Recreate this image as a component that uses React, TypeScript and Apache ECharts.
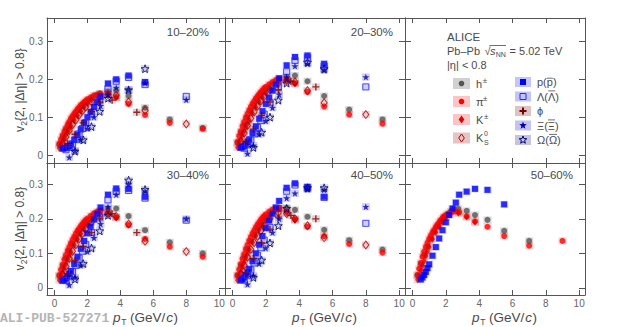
import React, { useEffect, useRef } from "react";
import * as echarts from "echarts";

// ---------- data ----------
const CENTRALITY = ["10–20%", "20–30%", "30–40%", "40–50%", "50–60%"];
const X_TICKS = [0, 2, 4, 6, 8, 10];
const Y_TICKS = [0, 0.1, 0.2, 0.3];

const PT_H = [0.3, 0.5, 0.7, 0.9, 1.1, 1.3, 1.5, 1.7, 1.9, 2.1, 2.3, 2.5, 2.75, 3.25, 3.75, 4.5, 5.5, 7, 9];
const V2_H = [
  [0.027, 0.047, 0.066, 0.082, 0.097, 0.109, 0.12, 0.13, 0.138, 0.146, 0.152, 0.157, 0.163, 0.168, 0.17, 0.156, 0.125, 0.094, 0.072],
  [0.032, 0.058, 0.08, 0.1, 0.117, 0.132, 0.145, 0.156, 0.166, 0.175, 0.183, 0.19, 0.199, 0.207, 0.21, 0.195, 0.156, 0.12, 0.094],
  [0.034, 0.062, 0.086, 0.108, 0.127, 0.144, 0.159, 0.172, 0.184, 0.195, 0.205, 0.213, 0.222, 0.23, 0.23, 0.208, 0.167, 0.132, 0.1],
  [0.035, 0.064, 0.09, 0.113, 0.134, 0.152, 0.168, 0.182, 0.195, 0.206, 0.215, 0.223, 0.23, 0.232, 0.226, 0.206, 0.168, 0.138, 0.111],
  [0.036, 0.068, 0.096, 0.121, 0.143, 0.162, 0.178, 0.192, 0.204, 0.214, 0.222, 0.228, 0.229, 0.223, 0.211, 0.197, 0.165, 0.136, null],
];

const PT_PI = [0.3, 0.4, 0.5, 0.6, 0.7, 0.8, 0.9, 1.0, 1.1, 1.2, 1.3, 1.4, 1.5, 1.6, 1.7, 1.8, 1.9, 2.0, 2.2, 2.4, 2.6, 2.8, 3.25, 3.75, 4.5, 5.5, 7, 9];
const V2_PI = [
  [0.03, 0.041, 0.052, 0.062, 0.071, 0.08, 0.088, 0.096, 0.103, 0.109, 0.115, 0.121, 0.126, 0.131, 0.135, 0.139, 0.143, 0.147, 0.152, 0.157, 0.16, 0.162, 0.163, 0.153, 0.135, 0.106, 0.085, 0.069],
  [0.035, 0.05, 0.063, 0.076, 0.088, 0.099, 0.109, 0.118, 0.127, 0.135, 0.142, 0.149, 0.155, 0.161, 0.166, 0.171, 0.176, 0.18, 0.187, 0.193, 0.198, 0.201, 0.2, 0.189, 0.167, 0.128, 0.107, 0.083],
  [0.037, 0.052, 0.067, 0.082, 0.095, 0.107, 0.118, 0.129, 0.139, 0.148, 0.157, 0.165, 0.172, 0.179, 0.185, 0.191, 0.196, 0.201, 0.209, 0.216, 0.221, 0.224, 0.218, 0.204, 0.182, 0.142, 0.119, 0.09],
  [0.037, 0.053, 0.069, 0.084, 0.098, 0.112, 0.124, 0.136, 0.147, 0.157, 0.166, 0.175, 0.183, 0.19, 0.197, 0.203, 0.208, 0.213, 0.221, 0.227, 0.23, 0.231, 0.222, 0.199, 0.177, 0.15, 0.127, 0.102],
  [0.037, 0.055, 0.072, 0.09, 0.105, 0.118, 0.13, 0.141, 0.151, 0.16, 0.168, 0.176, 0.183, 0.19, 0.196, 0.202, 0.207, 0.211, 0.217, 0.221, 0.222, 0.219, 0.207, 0.193, 0.177, 0.15, 0.122, 0.136],
];

const PT_K = [0.3, 0.4, 0.5, 0.6, 0.7, 0.8, 0.9, 1.0, 1.2, 1.4, 1.6, 1.8, 2.0, 2.25, 2.75, 3.25, 3.75];
const V2_K = [
  [0.018, 0.026, 0.035, 0.044, 0.053, 0.061, 0.069, 0.077, 0.091, 0.104, 0.116, 0.126, 0.135, 0.145, 0.155, 0.16, 0.152],
  [0.02, 0.03, 0.041, 0.052, 0.063, 0.073, 0.083, 0.092, 0.11, 0.126, 0.14, 0.152, 0.163, 0.175, 0.192, 0.198, 0.188],
  [0.022, 0.033, 0.045, 0.057, 0.069, 0.081, 0.092, 0.103, 0.123, 0.141, 0.157, 0.171, 0.183, 0.197, 0.215, 0.216, 0.203],
  [0.022, 0.034, 0.047, 0.06, 0.073, 0.086, 0.098, 0.11, 0.132, 0.151, 0.168, 0.183, 0.196, 0.21, 0.225, 0.218, 0.196],
  [0.023, 0.036, 0.05, 0.064, 0.078, 0.092, 0.105, 0.118, 0.141, 0.161, 0.178, 0.192, 0.204, 0.213, 0.216, 0.205, 0.19],
];

const PT_K0S = [0.5, 0.7, 0.9, 1.1, 1.3, 1.5, 1.7, 1.9, 2.25, 2.75, 3.25, 3.75, 4.5, 5.5, 8];
const V2_K0S = [
  [0.03, 0.048, 0.065, 0.08, 0.093, 0.106, 0.117, 0.127, 0.141, 0.153, 0.16, 0.158, 0.14, 0.118, 0.082],
  [0.036, 0.058, 0.078, 0.097, 0.114, 0.129, 0.143, 0.155, 0.172, 0.19, 0.197, 0.193, 0.17, 0.138, 0.107],
  [0.038, 0.062, 0.085, 0.106, 0.125, 0.142, 0.157, 0.17, 0.19, 0.21, 0.216, 0.207, 0.185, 0.135, 0.105],
  [0.039, 0.065, 0.089, 0.111, 0.131, 0.149, 0.165, 0.179, 0.2, 0.218, 0.215, 0.2, 0.18, 0.145, 0.124],
];

const PT_P = [0.5, 0.6, 0.7, 0.8, 0.9, 1.0, 1.2, 1.4, 1.6, 1.8, 2.0, 2.2, 2.4, 2.6, 2.8, 3.25, 3.75, 4.5, 5.5];
const V2_P = [
  [0.017, 0.018, 0.019, 0.021, 0.024, 0.028, 0.04, 0.053, 0.068, 0.085, 0.1, 0.114, 0.127, 0.14, 0.155, 0.189, 0.2, 0.21, 0.193],
  [0.019, 0.021, 0.024, 0.028, 0.034, 0.041, 0.058, 0.076, 0.096, 0.116, 0.135, 0.152, 0.17, 0.186, 0.203, 0.237, 0.259, 0.263, 0.241],
  [0.02, 0.023, 0.027, 0.033, 0.04, 0.049, 0.069, 0.09, 0.113, 0.136, 0.158, 0.178, 0.198, 0.215, 0.233, 0.27, 0.288, 0.287, 0.264],
  [0.021, 0.025, 0.03, 0.037, 0.045, 0.055, 0.077, 0.1, 0.125, 0.15, 0.173, 0.195, 0.215, 0.233, 0.252, 0.29, 0.303, 0.293, 0.264],
  [0.024, 0.03, 0.037, 0.046, 0.057, 0.068, 0.093, 0.118, 0.143, 0.167, 0.19, 0.211, 0.23, 0.247, 0.27, 0.279, 0.287, 0.284, 0.242],
];

const PT_LAMBDA = [0.7, 0.9, 1.1, 1.3, 1.5, 1.7, 1.9, 2.25, 2.75, 3.25, 3.75, 4.5, 5.5, 8];
const V2_LAMBDA = [
  [0.014, 0.02, 0.03, 0.042, 0.056, 0.07, 0.085, 0.108, 0.145, 0.175, 0.195, 0.205, 0.186, 0.155],
  [0.018, 0.027, 0.04, 0.056, 0.073, 0.091, 0.108, 0.138, 0.18, 0.22, 0.25, 0.258, 0.235, 0.18],
  [0.021, 0.032, 0.047, 0.065, 0.086, 0.106, 0.126, 0.16, 0.205, 0.255, 0.28, 0.282, 0.26, 0.196],
  [0.023, 0.035, 0.052, 0.072, 0.094, 0.116, 0.138, 0.175, 0.23, 0.28, 0.298, 0.29, 0.262, 0.187],
];

const PT_PHI = [0.8, 1.25, 1.75, 2.25, 2.75, 3.5, 5.0];
const V2_PHI = [
  [0.03, 0.055, 0.085, 0.115, 0.14, 0.145, 0.113],
  [0.035, 0.068, 0.105, 0.14, 0.172, 0.195, 0.18],
  [0.04, 0.08, 0.12, 0.16, 0.2, 0.215, 0.16],
  [0.042, 0.085, 0.13, 0.17, 0.205, 0.21, 0.2],
];

const PT_XI = [0.9, 1.25, 1.6, 2.0, 2.4, 2.8, 3.25, 3.75, 4.5, 5.5, 8];
const V2_XI = [
  [-0.006, 0.012, 0.04, 0.07, 0.1, 0.13, 0.16, 0.178, 0.173, 0.19, 0.146],
  [0.004, 0.025, 0.055, 0.09, 0.125, 0.16, 0.205, 0.235, 0.241, 0.224, 0.206],
  [0.008, 0.03, 0.065, 0.105, 0.145, 0.185, 0.235, 0.27, 0.3, 0.28, 0.2],
  [0.01, 0.035, 0.07, 0.115, 0.16, 0.2, 0.26, 0.274, 0.285, 0.284, 0.235],
];

const PT_OMEGA = [1.25, 1.75, 2.25, 2.75, 3.25, 4.5, 5.5];
const V2_OMEGA = [
  [0.01, 0.04, 0.075, 0.115, 0.15, 0.172, 0.228],
  [0.02, 0.06, 0.1, 0.145, 0.19, 0.245, 0.228],
  [0.025, 0.07, 0.115, 0.165, 0.21, 0.312, 0.285],
  [0.03, 0.08, 0.13, 0.18, 0.23, 0.29, 0.29],
];

// ---------- styling ----------
const FONT = "Liberation Sans, Arial, Helvetica, sans-serif";
const AX = "#555";
const TXT = "#4a4a4a";
const X_MIN = -0.45, X_MAX = 10.35;
const Y_MIN = -0.021, Y_MAX = 0.362;

const GRIDS = [
  { left: 47, top: 18, width: 178, height: 145 },
  { left: 225, top: 18, width: 180, height: 145 },
  { left: 405, top: 18, width: 180, height: 145 },
  { left: 47, top: 163, width: 178, height: 132 },
  { left: 225, top: 163, width: 180, height: 132 },
  { left: 405, top: 163, width: 180, height: 132 },
];
const PANEL_GRID = [0, 1, 3, 4, 5];

function starPts(cx: number, cy: number, R: number, r: number) {
  const pts: number[][] = [];
  for (let i = 0; i < 10; i++) {
    const a = -Math.PI / 2 + (i * Math.PI) / 5;
    const rr = i % 2 === 0 ? R : r;
    pts.push([cx + rr * Math.cos(a), cy + rr * Math.sin(a)]);
  }
  return pts;
}
const STAR_PATH = "path://" + starPts(10, 10, 10, 4).map((p, i) => (i ? "L" : "M") + p[0].toFixed(2) + "," + p[1].toFixed(2)).join(" ") + " Z";
const CROSS_PATH = "path://M4,0 L6,0 L6,4 L10,4 L10,6 L6,6 L6,10 L4,10 L4,6 L0,6 L0,4 L4,4 Z";

type Sp = {
  pt: number[]; v2: (number | null)[][]; symbol: string; size: any; color: string; open?: boolean; box: string; shape: string;
};
const SPECIES: Sp[] = [
  { pt: PT_H, v2: V2_H, symbol: "circle", size: 6, color: "#555555", box: "rgba(140,140,140,0.4)", shape: "circle" },
  { pt: PT_PI, v2: V2_PI, symbol: "circle", size: 6, color: "#ff0000", box: "rgba(255,70,70,0.32)", shape: "circle" },
  { pt: PT_K, v2: V2_K, symbol: "diamond", size: [5, 7], color: "#e00000", box: "rgba(240,70,70,0.32)", shape: "diamond" },
  { pt: PT_K0S, v2: V2_K0S, symbol: "diamond", size: [6, 8], color: "#b00000", open: true, box: "rgba(180,70,70,0.32)", shape: "diamond" },
  { pt: PT_P, v2: V2_P, symbol: "rect", size: 6, color: "#0000ff", box: "rgba(70,70,255,0.32)", shape: "rect" },
  { pt: PT_LAMBDA, v2: V2_LAMBDA, symbol: "rect", size: 6, color: "#2a2aff", open: true, box: "rgba(70,70,230,0.32)", shape: "rect" },
  { pt: PT_PHI, v2: V2_PHI, symbol: CROSS_PATH, size: 7, color: "#7a0000", box: "rgba(150,70,70,0.32)", shape: "cross" },
  { pt: PT_XI, v2: V2_XI, symbol: STAR_PATH, size: 7, color: "#0000b0", box: "rgba(70,70,200,0.32)", shape: "star" },
  { pt: PT_OMEGA, v2: V2_OMEGA, symbol: STAR_PATH, size: 8, color: "#000070", open: true, box: "rgba(70,70,160,0.32)", shape: "star" },
];

function legendMarker(sp: Sp, cx: number, cy: number, bw: number, bh: number) {
  const els: any[] = [
    { type: "rect", shape: { x: cx - bw / 2, y: cy - bh / 2, width: bw, height: bh }, style: { fill: sp.box } },
  ];
  const st = sp.open ? { fill: "none", stroke: sp.color, lineWidth: 1 } : { fill: sp.color };
  if (sp.shape === "circle") els.push({ type: "circle", shape: { cx, cy, r: 2.8 }, style: st });
  else if (sp.shape === "rect") els.push({ type: "rect", shape: { x: cx - 3, y: cy - 3, width: 6, height: 6 }, style: st });
  else if (sp.shape === "diamond") els.push({ type: "polygon", shape: { points: [[cx, cy - 4], [cx + 2.8, cy], [cx, cy + 4], [cx - 2.8, cy]] }, style: st });
  else if (sp.shape === "cross") els.push({ type: "polygon", shape: { points: [[cx - 1, cy - 3.5], [cx + 1, cy - 3.5], [cx + 1, cy - 1], [cx + 3.5, cy - 1], [cx + 3.5, cy + 1], [cx + 1, cy + 1], [cx + 1, cy + 3.5], [cx - 1, cy + 3.5], [cx - 1, cy + 1], [cx - 3.5, cy + 1], [cx - 3.5, cy - 1], [cx - 1, cy - 1]] }, style: st });
  else if (sp.shape === "star") els.push({ type: "polygon", shape: { points: starPts(cx, cy, 4, 1.7) }, style: st });
  return els;
}

function tx(x: number, y: number, text: string, size = 11, extra: any = {}) {
  return {
    type: "text", x, y,
    style: { text, fill: TXT, fontSize: size, fontFamily: FONT, align: "left", verticalAlign: "middle", ...extra },
  };
}
function ln(x1: number, y1: number, x2: number, y2: number) {
  return { type: "line", shape: { x1, y1, x2, y2 }, style: { stroke: TXT, lineWidth: 0.8 } };
}

export default function App() {
  const ref = useRef<HTMLDivElement>(null);
  useEffect(() => {
    if (!ref.current) return;
    const chart = echarts.init(ref.current, undefined, { renderer: "svg" });

    const xAxis: any[] = [];
    const yAxis: any[] = [];
    GRIDS.forEach((_, gi) => {
      const bottomRow = gi >= 3;
      const leftCol = gi % 3 === 0;
      const line = { show: true, onZero: false, lineStyle: { color: AX, width: 1 } };
      const xt = { show: true, inside: true, length: 5, customValues: X_TICKS, lineStyle: { color: AX } };
      const yt = { show: true, inside: true, length: 6, customValues: Y_TICKS, lineStyle: { color: AX } };
      xAxis.push({ type: "value", gridIndex: gi, position: "bottom", min: X_MIN, max: X_MAX, axisLine: line, axisTick: xt, splitLine: { show: false },
        axisLabel: { show: bottomRow, customValues: X_TICKS, color: "#666", fontSize: 10, fontFamily: FONT, margin: 3 } });
      xAxis.push({ type: "value", gridIndex: gi, position: "top", min: X_MIN, max: X_MAX, axisLine: line, axisTick: xt, splitLine: { show: false }, axisLabel: { show: false } });
      yAxis.push({ type: "value", gridIndex: gi, position: "left", min: Y_MIN, max: Y_MAX, axisLine: line, axisTick: yt, splitLine: { show: false },
        axisLabel: { show: leftCol, customValues: Y_TICKS, color: "#666", fontSize: 10, fontFamily: FONT, margin: 4, formatter: (v: number) => String(Math.round(v * 10) / 10) } });
      yAxis.push({ type: "value", gridIndex: gi, position: "right", min: Y_MIN, max: Y_MAX, axisLine: line, axisTick: yt, splitLine: { show: false }, axisLabel: { show: false } });
    });

    const series: any[] = [];
    SPECIES.forEach((sp) => {
      sp.v2.forEach((vals, p) => {
        if (!vals) return;
        const g = PANEL_GRID[p];
        const data = sp.pt.map((x, i) => [x, vals[i]]).filter((d) => d[1] != null);
        series.push({ type: "scatter", xAxisIndex: 2 * g, yAxisIndex: 2 * g, data, symbol: "rect", symbolSize: [8, 7], itemStyle: { color: sp.box }, z: 2, silent: true });
      });
    });
    SPECIES.forEach((sp) => {
      sp.v2.forEach((vals, p) => {
        if (!vals) return;
        const g = PANEL_GRID[p];
        const data = sp.pt.map((x, i) => [x, vals[i]]).filter((d) => d[1] != null);
        series.push({ type: "scatter", xAxisIndex: 2 * g, yAxisIndex: 2 * g, data, symbol: sp.symbol, symbolSize: sp.size, z: 3,
          itemStyle: sp.open ? { color: "rgba(0,0,0,0)", borderColor: sp.color, borderWidth: 1 } : { color: sp.color } });
      });
    });

    const graphic: any[] = [];
    // panel labels
    const labelPos = [[209, 32], [393, 32], [209, 175], [393, 175], [573, 175]];
    CENTRALITY.forEach((c, i) => graphic.push(tx(labelPos[i][0], labelPos[i][1], c, 11.5, { align: "right" })));

    // legend text block
    graphic.push(tx(447, 37, "ALICE", 11.5));
    graphic.push(tx(447, 51, "Pb–Pb", 11));
    graphic.push(tx(484.5, 51, "√", 11));
    graphic.push(ln(489.5, 45.5, 506, 45.5));
    graphic.push(tx(490, 51, "s", 11, { fontStyle: "italic" }));
    graphic.push(tx(495.8, 54, "NN", 7));
    graphic.push(tx(506.5, 51, " = 5.02 TeV", 11));
    graphic.push(tx(447, 65, "|η| < 0.8", 11));

    const leftRows = [83.5, 101.5, 119.5, 138];
    const rightRows = [82, 96.5, 111, 125.5, 140];
    [0, 1, 2, 3].forEach((k, i) => legendMarker(SPECIES[k], 461.5, leftRows[i], 17, 11).forEach((e) => graphic.push(e)));
    [4, 5, 6, 7, 8].forEach((k, i) => legendMarker(SPECIES[k], 523, rightRows[i], 16, 10).forEach((e) => graphic.push(e)));
    // left labels
    graphic.push(tx(476, leftRows[0], "h", 11), tx(482.8, leftRows[0] - 3.5, "±", 8));
    graphic.push(tx(476, leftRows[1], "π", 11), tx(483, leftRows[1] - 3.5, "±", 8));
    graphic.push(tx(476, leftRows[2], "K", 11), tx(484, leftRows[2] - 3.5, "±", 8));
    graphic.push(tx(476, leftRows[3], "K", 11), tx(484, leftRows[3] - 4.5, "0", 7), tx(484, leftRows[3] + 4.5, "S", 7));
    // right labels
    const R0 = 537;
    graphic.push(tx(R0, rightRows[0], "p(p)", 11), ln(R0 + 9.9, rightRows[0] - 3.8, R0 + 15.8, rightRows[0] - 3.8));
    graphic.push(tx(R0, rightRows[1], "Λ(Λ)", 11), ln(R0 + 11.2, rightRows[1] - 5.6, R0 + 18.3, rightRows[1] - 5.6));
    graphic.push(tx(R0, rightRows[2], "ϕ", 11));
    graphic.push(tx(R0, rightRows[3], "Ξ(Ξ)", 11), ln(R0 + 11, rightRows[3] - 5.6, R0 + 18, rightRows[3] - 5.6));
    graphic.push(tx(R0, rightRows[4], "Ω(Ω)", 11), ln(R0 + 12, rightRows[4] - 5.6, R0 + 20, rightRows[4] - 5.6));

    // y titles
    [90.5, 229].forEach((cy) => {
      graphic.push({
        type: "group", x: 20, y: cy, rotation: Math.PI / 2,
        children: [
          tx(-41.6, 0, "v", 12),
          tx(-35.3, 3.5, "2", 8.5),
          tx(-30.4, 0, "{2, |Δη| > 0.8}", 12),
        ],
      });
    });
    // x titles
    [113, 292, 472].forEach((x0) => {
      const y = 317;
      graphic.push(tx(x0, y, "p", 13.5, { fontStyle: "italic" }));
      graphic.push(tx(x0 + 8.2, y + 4.5, "T", 8.5));
      graphic.push(tx(x0 + 17, y, "(GeV/", 13.5));
      graphic.push(tx(x0 + 53.2, y, "c", 13.5, { fontStyle: "italic" }));
      graphic.push(tx(x0 + 60.4, y, ")", 13.5));
    });
    // watermark
    graphic.push({ type: "text", x: 0, y: 318, z: 0, style: { text: "ALI-PUB-527271", fill: "#b4b4b4", fontSize: 13, fontWeight: "bold", fontFamily: "Liberation Mono, DejaVu Sans Mono, monospace", verticalAlign: "middle" } });

    chart.setOption({
      animation: false,
      textStyle: { fontFamily: FONT },
      grid: GRIDS.map((g) => ({ ...g, containLabel: false })),
      xAxis, yAxis, series, graphic,
    });
    return () => chart.dispose();
  }, []);
  return <div ref={ref} style={{ position: "absolute", left: 0, top: 0, width: 620, height: 327, background: "#fff" }} />;
}
